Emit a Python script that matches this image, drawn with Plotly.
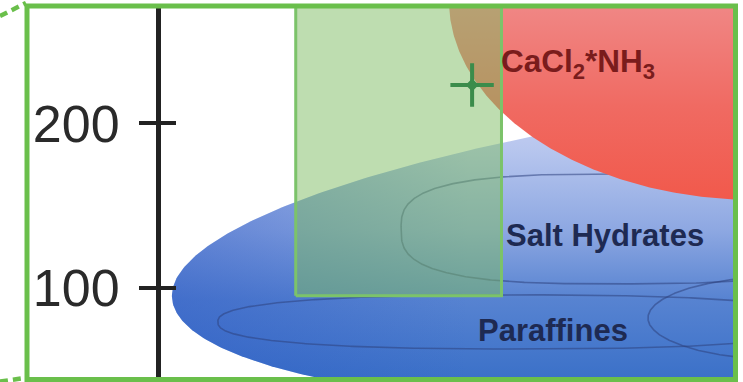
import numpy as np
import plotly.graph_objects as go

# ---- axis -------------------------------------------------------------
y_ticks = [100, 200]
x_range = [1.5, 353.6]
y_range = [42.4, 270.4]

# ---- filled regions: [broad envelope, reaction region] ------------------
fill_cx = [555.7, 366.8]
fill_cy = [131.9, 275.3]
fill_rx = [548.8, 189.0]
fill_ry = [102.4, 122.0]
fill_tilt = [4.0, 0.0]

# ---- outlined material classes inside the envelope -----------------------
class_cx = [281.4, 220.4, 385.1]
class_cy = [135.7, 79.0, 81.4]
class_rx = [132.9, 184.1, 85.4]
class_ry = [33.5, 16.5, 25.6]
class_power = [3.0, 2.5, 2.0]

class_labels = ["Salt Hydrates", "Paraffines"]
class_label_x = [273.5, 241.8]
class_label_y = [132.0, 74.1]

# ---- operating window and reference material ----------------------------
window_x = [84.0, 210.0]
window_y = [95.0, 300.0]

point_x = [192.0]
point_y = [223.5]
point_label = "CaCl<sub>2</sub>*NH<sub>3</sub>"
point_label_x = 208.2
point_label_y = 236.8


def outline(cx, cy, rx, ry, tilt=0.0, power=2.0, n=721):
    """Closed (super)ellipse outline in data units."""
    t = np.linspace(0, 2 * np.pi, n)
    c, s = np.cos(t), np.sin(t)
    u = rx * np.sign(c) * np.abs(c) ** (2.0 / power)
    v = ry * np.sign(s) * np.abs(s) ** (2.0 / power)
    th = np.radians(tilt)
    return cx + u * np.cos(th) - v * np.sin(th), cy + u * np.sin(th) + v * np.cos(th)


fig = go.Figure()

# broad blue envelope: vertical shading plus a darker left end
bx, by = outline(fill_cx[0], fill_cy[0], fill_rx[0], fill_ry[0], fill_tilt[0])
fig.add_trace(go.Scatter(
    x=bx, y=by, mode="lines", fill="toself", line=dict(width=0),
    fillgradient=dict(
        type="vertical", start=y_range[0], stop=195,
        colorscale=[[0.0, "#3a70c8"], [0.33, "#5783d1"], [0.61, "#8ea8e2"],
                    [0.93, "#b7c6ee"], [1.0, "#bfcaf0"]]),
    hoverinfo="skip", showlegend=False))
fig.add_trace(go.Scatter(
    x=bx, y=by, mode="lines", fill="toself", line=dict(width=0),
    fillgradient=dict(
        type="horizontal", start=5, stop=190,
        colorscale=[[0.0, "rgba(40,85,195,0.45)"],
                    [1.0, "rgba(40,85,195,0.0)"]]),
    hoverinfo="skip", showlegend=False))

# outlined classes
for cx, cy, rx, ry, pw in zip(class_cx, class_cy, class_rx, class_ry, class_power):
    ox, oy = outline(cx, cy, rx, ry, 0.0, pw)
    fig.add_trace(go.Scatter(
        x=ox, y=oy, mode="lines",
        line=dict(color="rgba(45,65,125,0.55)", width=1.6),
        hoverinfo="skip", showlegend=False))

# red reaction region
rx_, ry_ = outline(fill_cx[1], fill_cy[1], fill_rx[1], fill_ry[1], fill_tilt[1])
fig.add_trace(go.Scatter(
    x=rx_, y=ry_, mode="lines", fill="toself", line=dict(width=0),
    fillgradient=dict(
        type="vertical", start=150, stop=y_range[1],
        colorscale=[[0.0, "#f1584a"], [0.5, "#f06a62"], [1.0, "#f08684"]]),
    hoverinfo="skip", showlegend=False))

# green operating window
fig.add_trace(go.Scatter(
    x=[window_x[0], window_x[1], window_x[1], window_x[0], window_x[0]],
    y=[window_y[0], window_y[0], window_y[1], window_y[1], window_y[0]],
    mode="lines", fill="toself", fillcolor="rgba(125,188,98,0.5)",
    line=dict(color="#7cc36a", width=3),
    hoverinfo="skip", showlegend=False))

# reference material marker
fig.add_trace(go.Scatter(
    x=point_x, y=point_y, mode="markers",
    marker=dict(symbol="cross-thin", size=31,
                line=dict(color="#3b8c4b", width=4)),
    hoverinfo="skip", showlegend=False))
fig.add_trace(go.Scatter(
    x=point_x, y=point_y, mode="markers",
    marker=dict(symbol="diamond", size=10, color="#3b8c4b"),
    hoverinfo="skip", showlegend=False))

# dummy trace carrying the inner half of the tick marks
fig.add_trace(go.Scatter(
    x=[window_x[0]], y=[y_ticks[0]], yaxis="y2", mode="markers",
    marker=dict(opacity=0), hoverinfo="skip", showlegend=False))

fig.add_annotation(
    x=point_label_x, y=point_label_y, text="<b>" + point_label + "</b>",
    showarrow=False, xanchor="left", yanchor="middle",
    font=dict(family="Liberation Sans", size=31.5, color="#7a1c1c"))
for txt, lx, ly in zip(class_labels, class_label_x, class_label_y):
    fig.add_annotation(
        x=lx, y=ly, text="<b>" + txt + "</b>", showarrow=False,
        xanchor="center", yanchor="middle",
        font=dict(family="Liberation Sans", size=31, color="#1e2a52"))

W, H = 743, 382
green = "#6abf4b"
# frame around the detail view
fig.add_shape(type="rect", xref="paper", yref="paper",
              x0=27 / W, x1=735.5 / W, y0=1 - 379.5 / H, y1=1 - 6 / H,
              line=dict(color=green, width=5), layer="above")
# dashed leader lines
fig.add_shape(type="line", xref="paper", yref="paper",
              x0=0, y0=1 - 16 / H, x1=26 / W, y1=1 - 3 / H,
              line=dict(color=green, width=4.5, dash="8px,5px"), layer="above")
fig.add_shape(type="line", xref="paper", yref="paper",
              x0=0, y0=1 - 381.5 / H, x1=25 / W, y1=1 - 378 / H,
              line=dict(color=green, width=4.5, dash="8px,5px"), layer="above")

axis_common = dict(range=y_range, domain=[0, 374 / H], tickvals=y_ticks,
                   showgrid=False, zeroline=False, tickwidth=4,
                   tickcolor="#222222", fixedrange=True)
fig.update_layout(
    width=W, height=H, margin=dict(l=0, r=0, t=0, b=0),
    paper_bgcolor="white", plot_bgcolor="white",
    xaxis=dict(range=x_range, domain=[161 / W, 736 / W], visible=False,
               fixedrange=True),
    yaxis=dict(**axis_common, showline=True, linecolor="#222222", linewidth=5,
               ticks="outside", ticklen=17, ticklabelstandoff=9,
               tickfont=dict(family="Liberation Sans", size=52,
                             color="#2a2a2a")),
    yaxis2=dict(**axis_common, overlaying="y", side="left", anchor="x",
                showline=False, ticks="inside", ticklen=15,
                showticklabels=False),
    showlegend=False,
)

fig.write_html("out.html")
